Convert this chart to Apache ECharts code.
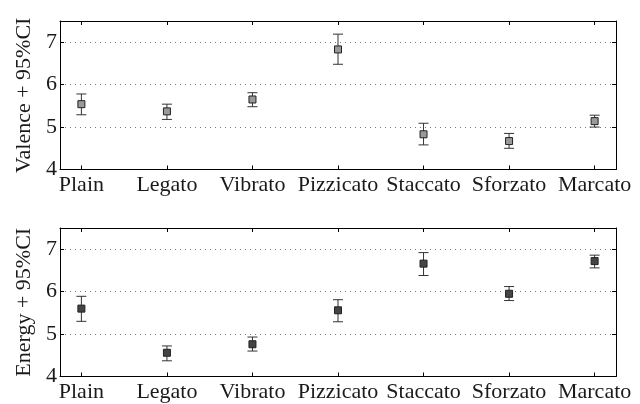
<!DOCTYPE html>
<html><head><meta charset="utf-8">
<script src="https://cdn.jsdelivr.net/npm/echarts@6/dist/echarts.min.js"></script>
<style>html,body{margin:0;padding:0;background:#fff}#c{width:640px;height:404px}</style>
</head><body><div id="c"></div>
<script>
var categories = ['Plain','Legato','Vibrato','Pizzicato','Staccato','Sforzato','Marcato'];
var valenceMean = [5.54, 5.37, 5.65, 6.83, 4.83, 4.67, 5.14];
var valenceLow  = [5.29, 5.18, 5.48, 6.48, 4.58, 4.50, 5.00];
var valenceHigh = [5.78, 5.54, 5.81, 7.19, 5.09, 4.85, 5.28];
var energyMean = [5.60, 4.56, 4.76, 5.56, 6.66, 5.95, 6.72];
var energyLow  = [5.30, 4.37, 4.60, 5.29, 6.38, 5.79, 6.56];
var energyHigh = [5.89, 4.72, 4.93, 5.81, 6.92, 6.12, 6.86];
var yTicks = [4, 5, 6, 7];

var positions = categories.map(function(c, i){ return i + 1; });
var FONT = 'Liberation Serif';

function xAxes(gi) {
  return [{
    type: 'value', gridIndex: gi, min: 0.75, max: 7.25, position: 'bottom',
    axisLine: {show: true, onZero: false, lineStyle: {color: '#000', width: 1}},
    axisTick: {show: true, inside: true, length: 4, customValues: positions, lineStyle: {color: '#000'}},
    axisLabel: {show: true, customValues: positions, margin: 5, color: '#1a1a1a', fontFamily: FONT, fontSize: 22,
      formatter: function(v){ return categories[Math.round(v) - 1] || ''; }},
    splitLine: {show: false}
  }, {
    type: 'value', gridIndex: gi, min: 0.75, max: 7.25, position: 'top',
    axisLine: {show: true, onZero: false, lineStyle: {color: '#000', width: 1}},
    axisTick: {show: true, inside: true, length: 4, customValues: positions, lineStyle: {color: '#000'}},
    axisLabel: {show: false}, splitLine: {show: false}
  }];
}
function yAxes(gi, name) {
  return [{
    type: 'value', gridIndex: gi, min: 4, max: 7.5, position: 'left',
    name: name, nameLocation: 'middle', nameGap: 25,
    nameTextStyle: {fontFamily: FONT, fontSize: 22, color: '#1a1a1a'},
    axisLine: {show: true, onZero: false, lineStyle: {color: '#000', width: 1}},
    axisTick: {show: true, inside: true, length: 4, customValues: yTicks, lineStyle: {color: '#000'}},
    axisLabel: {show: true, customValues: yTicks, margin: 3, color: '#1a1a1a', fontFamily: FONT, fontSize: 22},
    splitLine: {show: true, customValues: [5, 6, 7], lineStyle: {type: [1, 4], color: '#777', width: 1}}
  }, {
    type: 'value', gridIndex: gi, min: 4, max: 7.5, position: 'right',
    axisLine: {show: true, onZero: false, lineStyle: {color: '#000', width: 1}},
    axisTick: {show: true, inside: true, length: 4, customValues: yTicks, lineStyle: {color: '#000'}},
    axisLabel: {show: false}, splitLine: {show: false}
  }];
}

function errData(mean, low, high) {
  return positions.map(function(x, i){ return [x, mean[i], low[i], high[i]]; });
}
function errSeries(xi, yi, data) {
  return {
    type: 'custom', xAxisIndex: xi, yAxisIndex: yi, data: data, z: 3,
    renderItem: function(params, api) {
      var x = api.value(0);
      var lo = api.coord([x, api.value(2)]);
      var hi = api.coord([x, api.value(3)]);
      var hw = 5;
      var st = {stroke: '#333', lineWidth: 1};
      return {type: 'group', children: [
        {type: 'line', shape: {x1: lo[0], y1: lo[1], x2: hi[0], y2: hi[1]}, style: st},
        {type: 'line', shape: {x1: lo[0]-hw, y1: lo[1], x2: lo[0]+hw, y2: lo[1]}, style: st},
        {type: 'line', shape: {x1: hi[0]-hw, y1: hi[1], x2: hi[0]+hw, y2: hi[1]}, style: st}
      ]};
    }
  };
}
function markSeries(xi, yi, mean, color) {
  return {
    type: 'scatter', xAxisIndex: xi, yAxisIndex: yi, z: 4,
    data: positions.map(function(x, i){ return [x, mean[i]]; }),
    symbol: 'rect', symbolSize: 7,
    itemStyle: {color: color, borderColor: '#222', borderWidth: 1, opacity: 1}
  };
}

var chart = echarts.init(document.getElementById('c'), null, {renderer: 'canvas'});
chart.setOption({
  animation: false,
  grid: [
    {left: 60, right: 24, top: 21, height: 148.5, show: false},
    {left: 60, right: 24, top: 228, height: 148.5, show: false}
  ],
  xAxis: xAxes(0).concat(xAxes(1)),
  yAxis: yAxes(0, 'Valence + 95%CI').concat(yAxes(1, 'Energy + 95%CI')),
  series: [
    errSeries(0, 0, errData(valenceMean, valenceLow, valenceHigh)),
    markSeries(0, 0, valenceMean, '#999'),
    errSeries(2, 2, errData(energyMean, energyLow, energyHigh)),
    markSeries(2, 2, energyMean, '#444')
  ]
});
</script></body></html>
